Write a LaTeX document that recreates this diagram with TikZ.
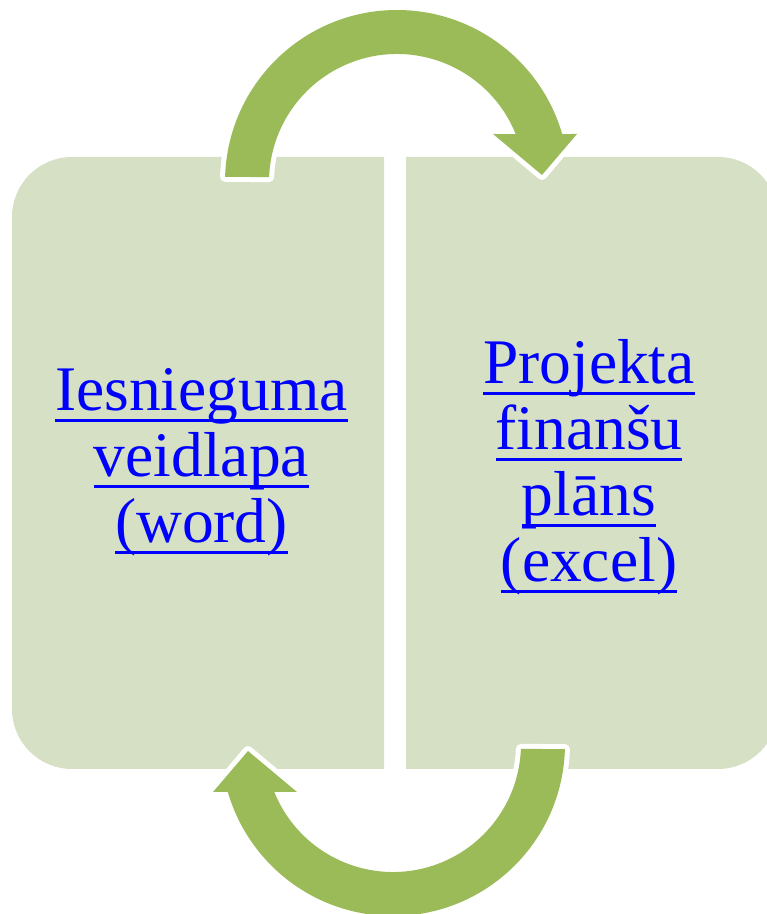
\documentclass[tikz,border=0pt]{standalone}
\usepackage{fontspec}
\setmainfont{Liberation Serif}
\usetikzlibrary{calc}
\definecolor{arrowgreen}{HTML}{9BBB59}
\definecolor{boxgreen}{HTML}{D6E0C4}
\definecolor{linkblue}{HTML}{0000FF}
\newsavebox{\ulbox}
\newcommand{\linkul}[1]{\sbox{\ulbox}{#1}\rlap{\rule[-11pt]{\wd\ulbox}{3pt}}\usebox{\ulbox}}
\tikzset{
  panel/.style={fill=boxgreen, draw=none},
  cyclearrow/.style={fill=arrowgreen, preaction={draw=white, line width=10pt, line join=round}},
  linktext/.style={text=linkblue, font=\fontsize{63.5}{66}\selectfont, inner sep=0pt, anchor=base}
}
\begin{document}
\begin{tikzpicture}[x=1pt, y=1pt]
\useasboundingbox (0,0) rectangle (767,914);
\clip (0,0) rectangle (767,914);
% panels
\path[panel] (384,757) -- (72,757) arc[start angle=90, end angle=180, radius=60pt]
  -- (12,205) arc[start angle=180, end angle=270, radius=60pt] -- (384,145) -- cycle;
\path[panel] (406,757) -- (718,757) arc[start angle=90, end angle=0, radius=60pt]
  -- (778,205) arc[start angle=0, end angle=-90, radius=60pt] -- (406,145) -- cycle;
% top circular arrow (left panel -> right panel)
\path[cyclearrow] ({397+172*cos(178.3)},{732+172*sin(178.3)})
  arc[start angle=178.3, end angle=16.2, radius=172pt]
  -- (577,780) -- (542,739) -- (493,780)
  -- ({397+128*cos(22)},{732+128*sin(22)})
  arc[start angle=22, end angle=177.8, radius=128pt] -- cycle;
% bottom circular arrow (right panel -> left panel)
\path[cyclearrow] ({393+172*cos(-1.7)},{170+172*sin(-1.7)})
  arc[start angle=-1.7, end angle=-163.8, radius=172pt]
  -- (213,122) -- (248,163) -- (297,122)
  -- ({393+128*cos(-158)},{170+128*sin(-158)})
  arc[start angle=-158, end angle=-2.2, radius=128pt] -- cycle;
% texts
\node[linktext] (word) at (201.5,503) {\begin{tabular}[t]{@{}c@{}}\linkul{Iesnieguma}\\ \linkul{veidlapa}\\ \linkul{(word)}\end{tabular}};
\node[linktext] (excel) at (589,530) {\begin{tabular}[t]{@{}c@{}}\linkul{Projekta}\\ \linkul{finanšu}\\ \linkul{plāns}\\ \linkul{(excel)}\end{tabular}};
\end{tikzpicture}
\end{document}
